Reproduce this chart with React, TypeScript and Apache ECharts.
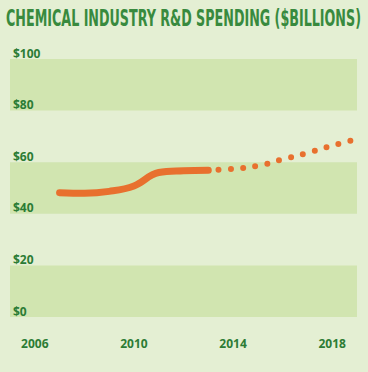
import React, { useEffect, useRef } from "react";
import * as echarts from "echarts";

const TITLE = "CHEMICAL INDUSTRY R&D SPENDING ($BILLIONS)";
const ACTUAL_YEARS = [2007, 2008, 2009, 2010, 2011, 2012, 2013];
const ACTUAL_VALUES = [48.2, 48.0, 48.7, 50.8, 56.0, 56.7, 56.9];
const PROJ_YEARS = [2013, 2014, 2015, 2016, 2017, 2018, 2019];
const PROJ_VALUES = [56.9, 57.4, 58.6, 61.1, 63.6, 66.4, 69.0];
const X_TICKS = [2006, 2010, 2014, 2018];

const BG = "#e4efd3";
const BAND = "#d1e5b0";
const ORANGE = "#e8702e";
const GREEN = "#2c7c35";
const TITLE_GREEN = "#388a3e";
const TITLE_FONT = '"DejaVu Sans Condensed", "Liberation Sans Narrow", sans-serif';

export default function App() {
  const ref = useRef<HTMLDivElement>(null);
  useEffect(() => {
    document.body.style.margin = "0";
    if (!ref.current) return;
    const chart = echarts.init(ref.current, undefined, { renderer: "svg" });

    const canvas = document.createElement("canvas");
    const ctx = canvas.getContext("2d");
    let scaleX = 0.7;
    if (ctx) {
      ctx.font = `bold 23px ${TITLE_FONT}`;
      const w = ctx.measureText(TITLE).width;
      if (w > 0) scaleX = 355 / w;
    }

    chart.setOption({
      animation: false,
      backgroundColor: BG,
      graphic: [
        {
          type: "text",
          x: 6,
          y: 18,
          scaleX,
          style: {
            text: TITLE,
            x: 0,
            y: 0,
            fill: TITLE_GREEN,
            font: `bold 23px ${TITLE_FONT}`,
            textAlign: "left",
            textVerticalAlign: "middle",
          },
        },
      ],
      grid: { left: 10, right: 11, top: 59, bottom: 55 },
      xAxis: {
        type: "value",
        min: 2005,
        max: 2019,
        axisLine: { show: false },
        axisTick: { show: false },
        splitLine: { show: false },
        axisLabel: {
          customValues: X_TICKS,
          margin: 20,
          color: GREEN,
          fontFamily: "Open Sans",
          fontWeight: "bold",
          fontSize: 12,
          formatter: (v: number) => String(v),
        },
      },
      yAxis: {
        type: "value",
        min: 0,
        max: 100,
        interval: 20,
        axisLine: { show: false },
        axisTick: { show: false },
        splitLine: { show: false },
        splitArea: { show: true, areaStyle: { color: [BAND, "rgba(0,0,0,0)"] } },
        axisLabel: {
          inside: true,
          margin: 3,
          verticalAlign: "bottom",
          color: GREEN,
          fontFamily: "Open Sans",
          fontWeight: "bold",
          fontSize: 12,
          formatter: (v: number) => "$" + v,
        },
      },
      series: [
        {
          type: "line",
          data: ACTUAL_YEARS.map((y, i) => [y, ACTUAL_VALUES[i]]),
          smooth: 0.4,
          symbol: "none",
          clip: false,
          lineStyle: { color: ORANGE, width: 7, cap: "round", join: "round" },
          z: 3,
        },
        {
          type: "line",
          data: PROJ_YEARS.map((y, i) => [y, PROJ_VALUES[i]]),
          smooth: 0.4,
          symbol: "none",
          clip: false,
          lineStyle: {
            color: ORANGE,
            width: 6,
            cap: "round",
            type: [0, 12.3],
            dashOffset: 2.3,
          },
          z: 2,
        },
      ],
    });
    return () => chart.dispose();
  }, []);
  return <div ref={ref} style={{ width: 368, height: 372 }} />;
}
